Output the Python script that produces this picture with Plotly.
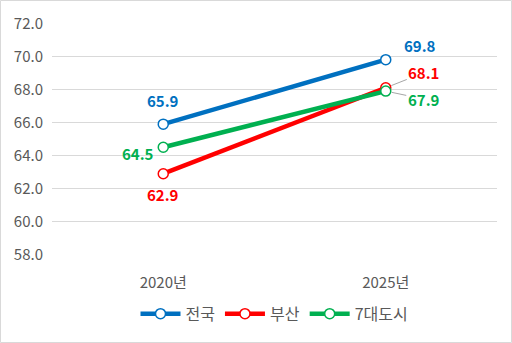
import plotly.graph_objects as go

categories = ["2020년", "2025년"]
series_names = ["전국", "부산", "7대도시"]
nation = [65.9, 69.8]
busan = [62.9, 68.1]
seven = [64.5, 67.9]
colors = ["#0070C0", "#FF0000", "#00B050"]
yticks = [58, 60, 62, 64, 66, 68, 70, 72]

FONT = "Noto Sans CJK KR"
fig = go.Figure()
for name, vals, c in zip(series_names, [nation, busan, seven], colors):
    fig.add_trace(go.Scatter(
        x=categories, y=vals, name=name, mode="lines+markers",
        line=dict(color=c, width=4.5),
        marker=dict(symbol="circle", size=10, color="white", line=dict(color=c, width=1.5)),
    ))

label_specs = [
    (nation, colors[0], [(0, -24), (34, -14)], [False, False]),
    (busan, colors[1], [(0, 21), (38, -15)], [False, True]),
    (seven, colors[2], [(-25, 6), (38, 8)], [False, True]),
]
for vals, c, offs, leaders in label_specs:
    for i, v in enumerate(vals):
        ax, ay = offs[i]
        fig.add_annotation(
            x=categories[i], y=v, xref="x", yref="y",
            text=f"<b>{v:.1f}</b>", showarrow=True,
            arrowcolor="#A6A6A6" if leaders[i] else "rgba(0,0,0,0)",
            arrowwidth=1, arrowhead=0, standoff=6,
            ax=ax, ay=ay, axref="pixel", ayref="pixel",
            font=dict(family=FONT, size=15, color=c),
        )

W, H = 512, 343
ml, mr, mt, mb = 52, 15, 23, 88
pw, ph = W - ml - mr, H - mt - mb
fig.add_shape(type="rect", xref="paper", yref="paper",
              x0=(0.5 - ml) / pw, x1=1 + (mr - 0.5) / pw,
              y0=-(mb - 0.5) / ph, y1=1 + (mt - 0.5) / ph,
              line=dict(color="#D9D9D9", width=1), fillcolor="rgba(0,0,0,0)", layer="below")

fig.update_layout(
    width=W, height=H, margin=dict(l=ml, r=mr, t=mt, b=mb),
    paper_bgcolor="white", plot_bgcolor="white",
    font=dict(family=FONT, color="#595959", size=15),
    showlegend=True,
    legend=dict(orientation="h", x=0.5, xanchor="center", y=-0.18, yanchor="top",
                font=dict(size=16, color="#595959"), itemwidth=40, tracegroupgap=0),
    xaxis=dict(range=[-0.5, 1.5], showgrid=False, zeroline=False, showline=False,
               ticks="", ticklabelstandoff=17, tickfont=dict(size=15, color="#595959")),
    yaxis=dict(range=[57.98, 72.02], tickvals=yticks, ticktext=[f"{t:.1f}" for t in yticks],
               showgrid=True, gridcolor="#D9D9D9", gridwidth=1, zeroline=False,
               showline=False, ticks="", ticklabelstandoff=8,
               tickfont=dict(size=15, color="#595959")),
)
fig.write_html("out.html")
